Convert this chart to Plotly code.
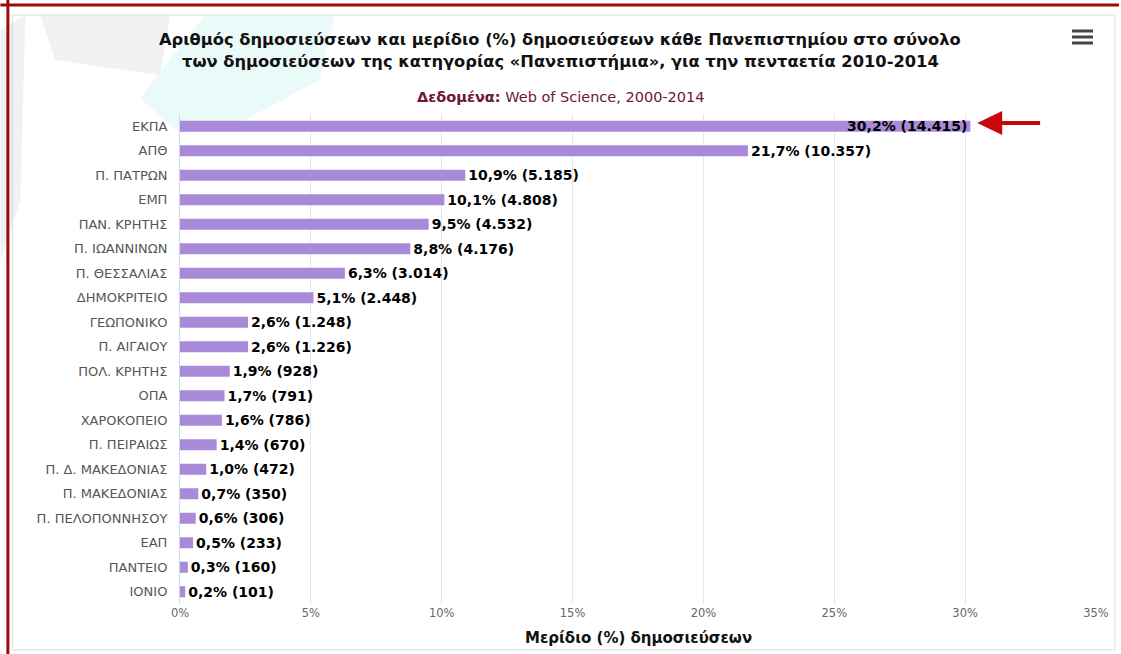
import plotly.graph_objects as go

# ---------------- data ----------------
universities = ["ΕΚΠΑ", "ΑΠΘ", "Π. ΠΑΤΡΩΝ", "ΕΜΠ", "ΠΑΝ. ΚΡΗΤΗΣ", "Π. ΙΩΑΝΝΙΝΩΝ",
                "Π. ΘΕΣΣΑΛΙΑΣ", "ΔΗΜΟΚΡΙΤΕΙΟ", "ΓΕΩΠΟΝΙΚΟ", "Π. ΑΙΓΑΙΟΥ",
                "ΠΟΛ. ΚΡΗΤΗΣ", "ΟΠΑ", "ΧΑΡΟΚΟΠΕΙΟ", "Π. ΠΕΙΡΑΙΩΣ",
                "Π. Δ. ΜΑΚΕΔΟΝΙΑΣ", "Π. ΜΑΚΕΔΟΝΙΑΣ", "Π. ΠΕΛΟΠΟΝΝΗΣΟΥ",
                "ΕΑΠ", "ΠΑΝΤΕΙΟ", "ΙΟΝΙΟ"]
share_pct = [30.2, 21.7, 10.9, 10.1, 9.5, 8.8, 6.3, 5.1, 2.6, 2.6,
             1.9, 1.7, 1.6, 1.4, 1.0, 0.7, 0.6, 0.5, 0.3, 0.2]
publications = [14415, 10357, 5185, 4808, 4532, 4176, 3014, 2448, 1248, 1226,
                928, 791, 786, 670, 472, 350, 306, 233, 160, 101]
x_tickvals = [0, 5, 10, 15, 20, 25, 30, 35]
x_ticktext = ["0%", "5%", "10%", "15%", "20%", "25%", "30%", "35%"]

labels = [f"{p:.1f}".replace(".", ",") + "% (" + f"{c:,}".replace(",", ".") + ")"
          for p, c in zip(share_pct, publications)]
positions = ["inside" if p > 28 else "outside" for p in share_pct]

# ---------------- geometry helpers (pixel -> paper) ----------------
W, H = 1121, 654
L, R, T, B = 180, 23, 114, 50
PW, PH = W - L - R, H - T - B


def px(X):
    return (X - L) / PW


def py(Y):
    return (H - B - Y) / PH


FONT = "DejaVu Sans"
LABEL_FONT = dict(family=FONT, size=14, color="#000000", weight="bold")

fig = go.Figure()
fig.add_trace(go.Bar(
    y=universities, x=share_pct, orientation="h",
    marker=dict(color="#a88ad9", line=dict(width=0)),
    width=0.45,
    text=labels, textposition=positions, insidetextanchor="end",
    constraintext="none", textangle=0, cliponaxis=False,
    textfont=LABEL_FONT, insidetextfont=LABEL_FONT, outsidetextfont=LABEL_FONT,
    hoverinfo="skip",
))

shapes = []


def poly(pts, color, layer="below"):
    d = "M " + " L ".join(f"{px(a):.5f},{py(b):.5f}" for a, b in pts) + " Z"
    return dict(type="path", path=d, xref="paper", yref="paper",
                fillcolor=color, line=dict(width=0), layer=layer)


# faint decorative background polygons (top-left)
shapes.append(poly([(0, 30), (25, 15), (20, 200), (0, 260)], "rgba(205,208,212,0.30)"))
shapes.append(poly([(40, 15), (170, 15), (160, 75), (55, 60)], "rgba(205,208,212,0.30)"))
shapes.append(poly([(140, 98), (205, 15), (335, 15), (320, 80), (245, 120), (175, 130)],
                   "rgba(160,232,222,0.22)"))
# chart container border
shapes.append(dict(type="rect", xref="paper", yref="paper",
                   x0=px(12), x1=px(1117), y0=py(650), y1=py(15),
                   line=dict(color="#dcdcdc", width=1), layer="below"))
# red outer border (top and left)
shapes.append(dict(type="line", xref="paper", yref="paper",
                   x0=px(0), x1=px(W), y0=py(5), y1=py(5),
                   line=dict(color="#9e0b0f", width=3)))
shapes.append(dict(type="line", xref="paper", yref="paper",
                   x0=px(7.5), x1=px(7.5), y0=py(0), y1=py(H),
                   line=dict(color="#9e0b0f", width=3)))
# hamburger menu icon
for yy in (31, 37, 43):
    shapes.append(dict(type="line", xref="paper", yref="paper",
                       x0=px(1074), x1=px(1095), y0=py(yy), y1=py(yy),
                       line=dict(color="#444444", width=3)))
# red arrow pointing at top bar
shapes.append(dict(type="line", xref="paper", yref="paper",
                   x0=px(1000), x1=px(1042), y0=py(123), y1=py(123),
                   line=dict(color="#c8060b", width=4)))
shapes.append(poly([(979, 123), (1004, 111), (1004, 135)], "#c8060b", layer="above"))

annotations = [
    dict(text="<b>Αριθμός δημοσιεύσεων και μερίδιο (%) δημοσιεύσεων κάθε Πανεπιστημίου στο σύνολο</b>",
         xref="paper", yref="paper", x=px(561), y=py(40), showarrow=False,
         xanchor="center", yanchor="middle",
         font=dict(family=FONT, size=16.3, color="#111111")),
    dict(text="<b>των δημοσιεύσεων της κατηγορίας «Πανεπιστήμια», για την πενταετία 2010-2014</b>",
         xref="paper", yref="paper", x=px(561), y=py(61), showarrow=False,
         xanchor="center", yanchor="middle",
         font=dict(family=FONT, size=16.3, color="#111111")),
    dict(text="<b>Δεδομένα:</b> Web of Science, 2000-2014",
         xref="paper", yref="paper", x=px(562), y=py(97), showarrow=False,
         xanchor="center", yanchor="middle",
         font=dict(family=FONT, size=14.5, color="#6e1535")),
    dict(text="<b>Μερίδιο (%) δημοσιεύσεων</b>",
         xref="paper", yref="paper", x=px(640), y=py(638), showarrow=False,
         xanchor="center", yanchor="middle",
         font=dict(family=FONT, size=15, color="#111111")),
]

fig.update_layout(
    width=W, height=H, autosize=False,
    margin=dict(l=L, r=R, t=T, b=B, pad=0),
    paper_bgcolor="#ffffff", plot_bgcolor="rgba(0,0,0,0)",
    showlegend=False,
    shapes=shapes, annotations=annotations,
    xaxis=dict(range=[0, 35], tickvals=x_tickvals, ticktext=x_ticktext,
               showgrid=True, gridcolor="#e6e6e6", gridwidth=1,
               zeroline=False, showline=False, ticks="",
               tickfont=dict(family=FONT, size=11.5, color="#666666"),
               fixedrange=True),
    yaxis=dict(autorange="reversed", showgrid=False, zeroline=False,
               showline=True, linecolor="#ccd6eb", linewidth=1,
               ticks="", ticklabelstandoff=9,
               tickfont=dict(family=FONT, size=13, color="#555555"),
               fixedrange=True),
)

fig.write_html("out.html", config={"displayModeBar": False},
               post_script="document.body.style.margin='0';document.body.style.overflow='hidden';")
